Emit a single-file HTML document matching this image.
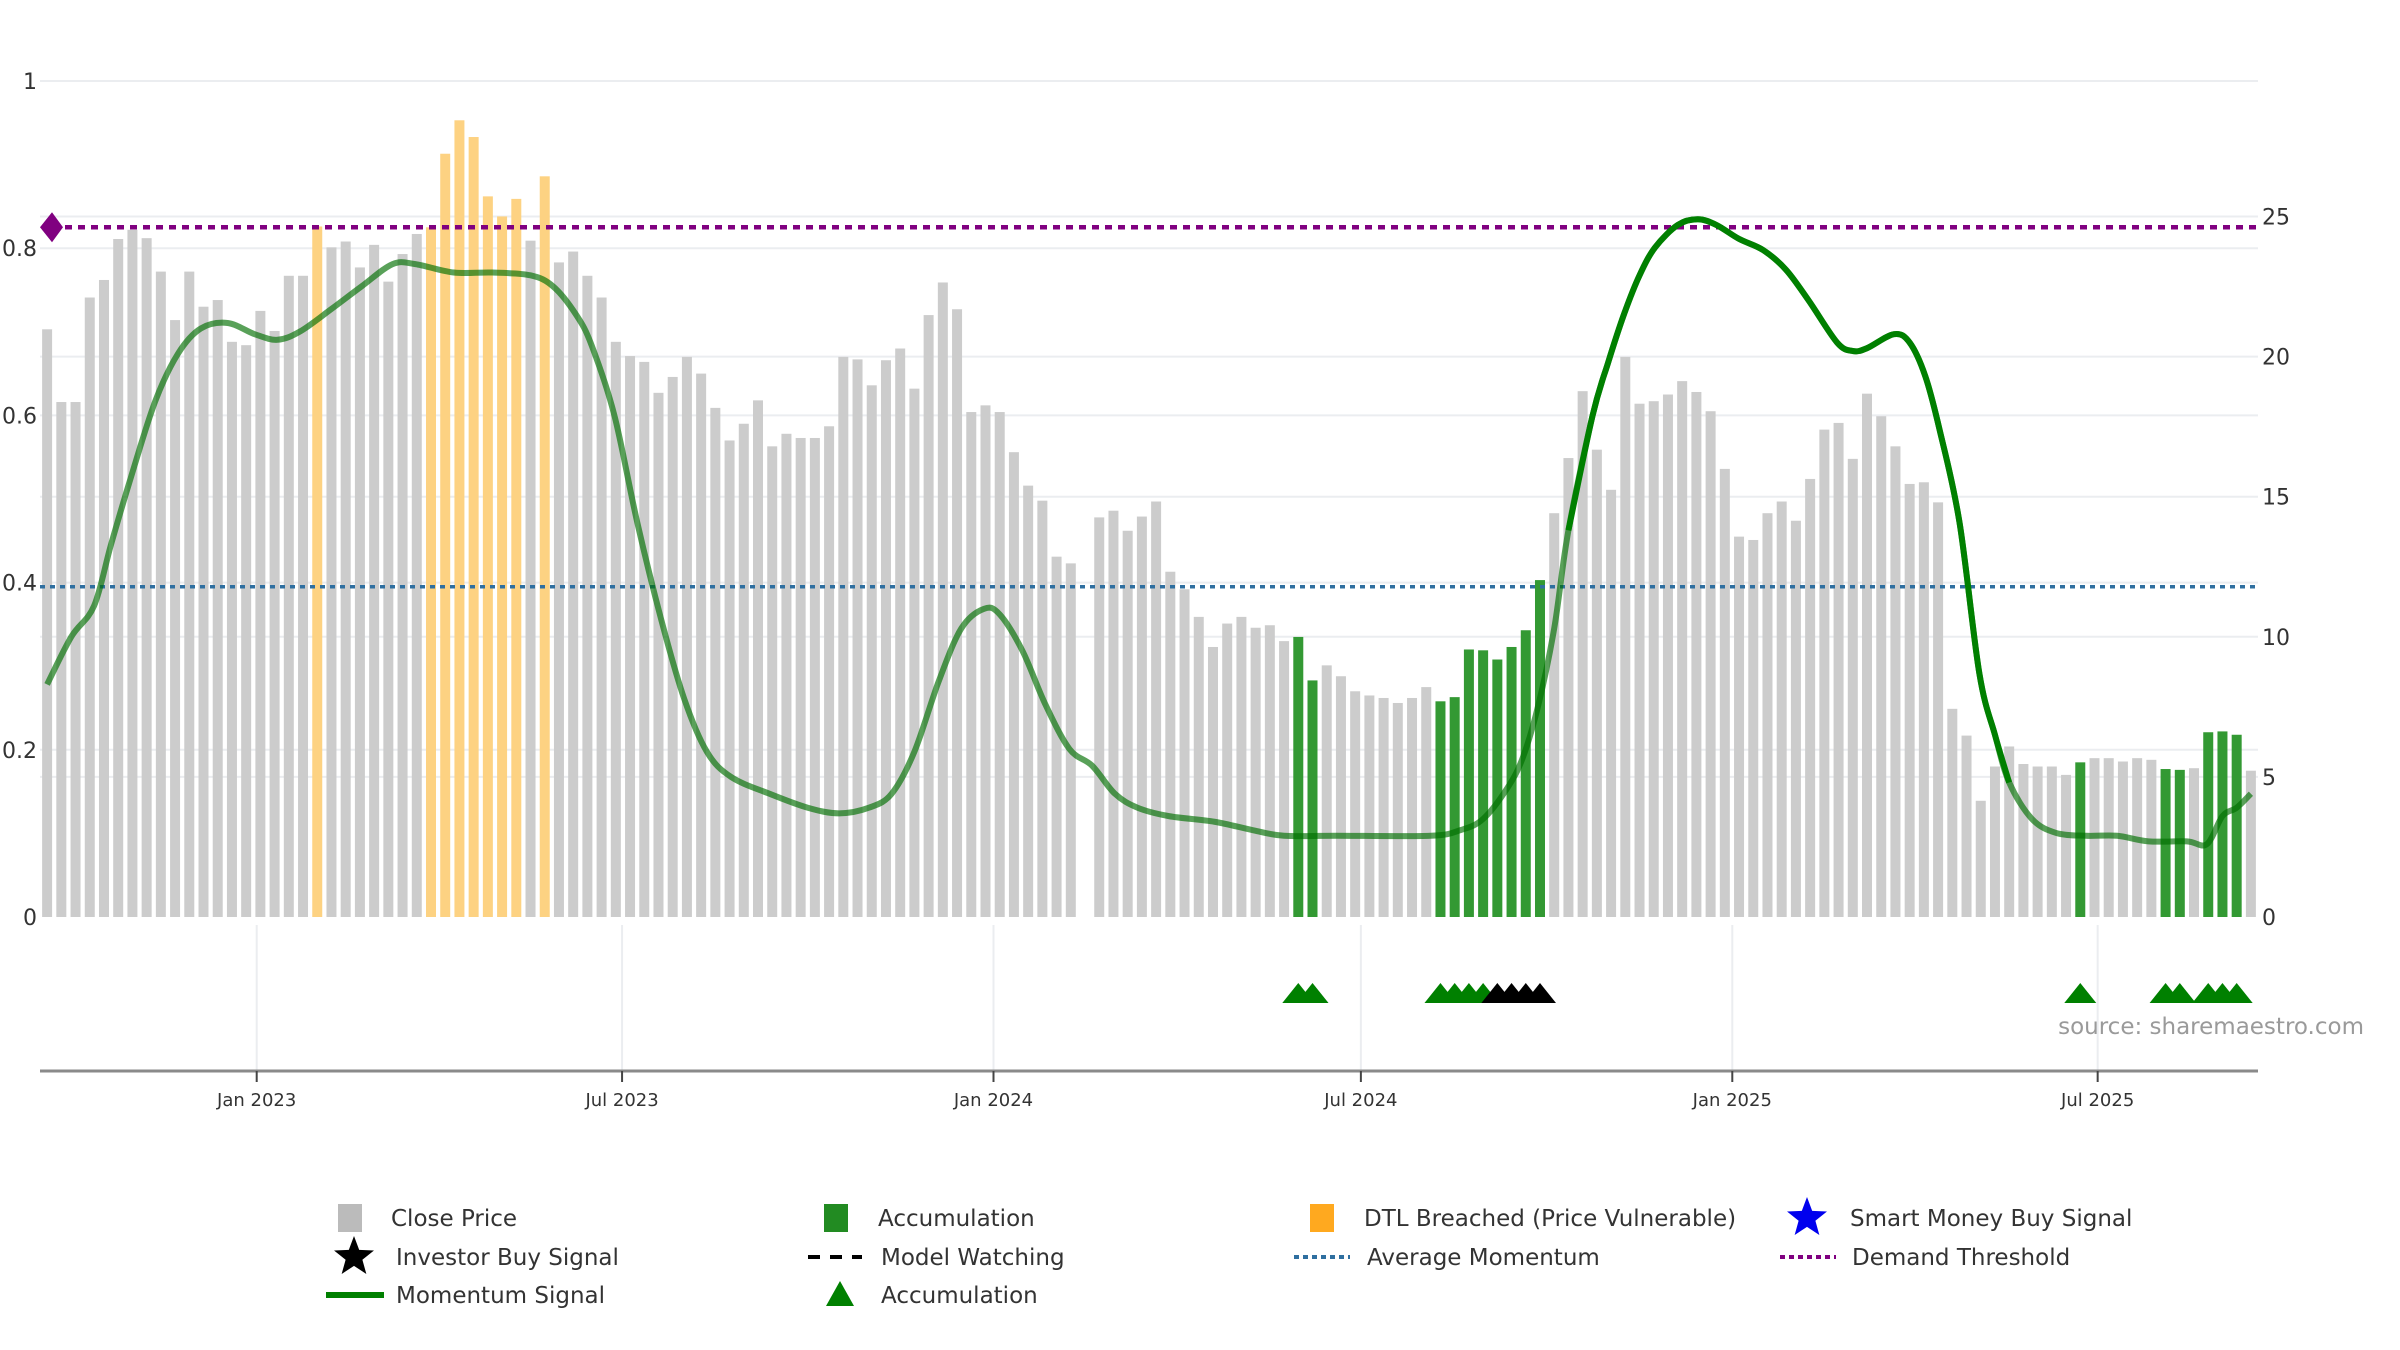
<!DOCTYPE html>
<html><head><meta charset="utf-8">
<style>
html,body{margin:0;padding:0;background:#fff;}
svg{display:block;font-family:"DejaVu Sans","Liberation Sans",sans-serif;}
</style></head>
<body>
<svg id="chart" width="2400" height="1350" viewBox="0 0 2400 1350" xmlns="http://www.w3.org/2000/svg">
<g id="grid"></g>
<g id="bars"></g>
<g id="lines"></g>
<g id="axes"></g>
<g id="markers"></g>
<text x="2364" y="1034" text-anchor="end" font-size="23" fill="#9a9a9a">source: sharemaestro.com</text>
<g id="legend"></g>
</svg>
<script>
const prices = [0.703,0.616,0.616,0.741,0.762,0.811,0.822,0.812,0.772,0.714,0.772,0.730,0.738,0.688,0.684,0.725,0.701,0.767,0.767,0.826,
0.801,0.808,0.777,0.804,0.760,0.793,0.817,0.825,0.913,0.953,0.933,0.862,0.838,0.859,0.809,0.886,0.783,0.796,0.767,0.741,
0.688,0.671,0.664,0.627,0.646,0.670,0.650,0.609,0.570,0.590,0.618,0.563,0.578,0.573,0.573,0.587,0.670,0.667,0.636,0.666,
0.680,0.632,0.720,0.759,0.727,0.604,0.612,0.604,0.556,0.516,0.498,0.431,0.423,null,0.478,0.486,0.462,0.479,0.497,0.413,
0.392,0.359,0.323,0.351,0.359,0.346,0.349,0.330,0.335,0.283,0.301,0.288,0.270,0.265,0.262,0.256,0.262,0.275,0.258,0.263,
0.320,0.319,0.308,0.323,0.343,0.403,0.483,0.549,0.629,0.559,0.511,0.670,0.614,0.617,0.625,0.641,0.628,0.605,0.536,0.455,
0.451,0.483,0.497,0.474,0.524,0.583,0.591,0.548,0.626,0.599,0.563,0.518,0.520,0.496,0.249,0.217,0.139,0.180,0.204,0.183,
0.180,0.180,0.170,0.185,0.190,0.190,0.186,0.190,0.188,0.177,0.176,0.178,0.221,0.222,0.218,0.175];
const accumulationBars = [89,90,99,100,101,102,103,104,105,106,144,150,151,153,154,155];
const dtlBars = [20,28,29,30,31,32,33,34,36];
const greenTriangles = [89,90,99,100,101,102,144,150,151,153,154,155];
const blackTriangles = [103,104,105,106];
const momWeek = [1,2.7,4.3,5.5,6.9,8.6,10.2,11.8,13.7,15.6,17.2,18.8,21,23.1,25.3,26.9,29.6,32.3,35,36.6,38.2,39.3,40.9,42.5,44.2,45.8,47.4,49.1,51.8,54.5,56.7,58.8,60.4,62,63.7,65.3,66.9,68,69.6,71.2,72.9,74.5,76.1,77.7,79.9,83.1,85.8,88,91.7,98.3,100.4,102,103.7,104.8,105.9,107,108,109.7,110.8,111.9,113,114.1,115.7,117.1,118.4,120,121.7,123.3,124.9,126.9,128,129,130.9,132,133.1,134.1,135.5,136.9,138,139,140.6,142.3,144.4,146.6,148.8,151.5,152.9,154,155,156];
const momValue = [8.3,10.0,11.1,13.3,15.7,18.4,20.1,21.0,21.2,20.8,20.6,20.9,21.7,22.5,23.3,23.3,23.0,23.0,22.9,22.5,21.5,20.4,17.9,14.1,10.6,7.8,5.9,5.0,4.4,3.9,3.7,3.9,4.4,5.9,8.4,10.3,11.0,10.8,9.5,7.6,6.0,5.4,4.4,3.9,3.6,3.4,3.1,2.9,2.9,2.9,3.1,3.5,4.6,5.7,7.6,10.3,13.8,17.9,19.8,21.5,22.9,23.9,24.7,24.9,24.7,24.2,23.8,23.1,22.0,20.5,20.2,20.3,20.8,20.5,19.3,17.4,14.1,8.7,6.5,4.8,3.5,3.0,2.9,2.9,2.7,2.7,2.6,3.6,3.9,4.4];
const leftTicks = [0,0.2,0.4,0.6,0.8,1];
const leftTickLabels = ["0","0.2","0.4","0.6","0.8","1"];
const rightTicks = [0,5,10,15,20,25];
const dateTicks = ["2023-01-01","2023-07-01","2024-01-01","2024-07-01","2025-01-01","2025-07-01"];
const dateTickLabels = ["Jan 2023","Jul 2023","Jan 2024","Jul 2024","Jan 2025","Jul 2025"];
const demandThreshold = 0.825;
const averageMomentum = 0.395;

const NS="http://www.w3.org/2000/svg";
const X0=40, X1=2258, NB=prices.length, BW=(X1-X0)/NB;
function xBar(i){return X0+(i-0.5)*BW;}
function yL(v){return 917-v*836;}
function yR(v){return 917-v*28.02;}
function xDate(s){const d=(Date.parse(s)-Date.parse("2023-01-01"))/86400000;return 256.7+d*2.0186;}
function mk(tag,attrs,parent){const e=document.createElementNS(NS,tag);for(const k in attrs)e.setAttribute(k,attrs[k]);parent.appendChild(e);return e;}
const G=id=>document.getElementById(id);

leftTicks.forEach(t=>{if(t>0){const l=mk('line',{x1:X0,x2:X1,y1:yL(t),y2:yL(t),stroke:'#ebedf0','stroke-width':2},G('grid'));

}});
rightTicks.forEach(t=>{if(t>0){const l=mk('line',{x1:X0,x2:X1,y1:yR(t),y2:yR(t),stroke:'#ebedf0','stroke-width':2},G('grid'));

}});
dateTicks.forEach(d=>{const l=mk('line',{x1:xDate(d),x2:xDate(d),y1:925,y2:1070,stroke:'#ebedf0','stroke-width':2},G('grid'));

});

prices.forEach((v,k)=>{
 if(v===null)return;
 const i=k+1;
 let fill='#cccccc', name='close-price-bar';
 if(accumulationBars.includes(i)){fill='#339933';name='accumulation-bar';}
 else if(dtlBars.includes(i)){fill='#fdd282';name='dtl-breached-bar';}
 const r=mk('rect',{x:xBar(i)-5,y:yL(v),width:10,height:yL(0)-yL(v),fill:fill},G('bars'));
 
 
});

const dl=mk('line',{x1:52,x2:X1,y1:yL(demandThreshold),y2:yL(demandThreshold),stroke:'#800080','stroke-width':4.5,'stroke-dasharray':'7 6'},G('lines'));


const dy=yL(demandThreshold);
const dm=mk('polygon',{points:`40,${dy} 52,${dy-15} 63,${dy} 52,${dy+15}`,fill:'#800080'},G('lines'));


const al=mk('line',{x1:X0,x2:X1,y1:yL(averageMomentum),y2:yL(averageMomentum),stroke:'#2f6fa0','stroke-width':3.5,'stroke-dasharray':'5 5'},G('lines'));



function pathFrom(idx){
 const pts=idx.map(k=>[xBar(momWeek[k]),yR(momValue[k])]);
 let d=`M${pts[0][0]},${pts[0][1]}`;
 for(let j=0;j<pts.length-1;j++){
  const p0=pts[Math.max(j-1,0)],p1=pts[j],p2=pts[j+1],p3=pts[Math.min(j+2,pts.length-1)];
  const c1=[p1[0]+(p2[0]-p0[0])/6,p1[1]+(p2[1]-p0[1])/6],c2=[p2[0]-(p3[0]-p1[0])/6,p2[1]-(p3[1]-p1[1])/6];
  d+=` C${c1[0]},${c1[1]} ${c2[0]},${c2[1]} ${p2[0]},${p2[1]}`;
 }
 return d;
}
const allIdx=momWeek.map((_,k)=>k);
const ml=mk('path',{d:pathFrom(allIdx),fill:'none',stroke:'rgba(0,110,0,0.65)','stroke-width':6,'stroke-linejoin':'round'},G('lines'));


const hiIdx=allIdx.filter(k=>momWeek[k]>=108&&momWeek[k]<=139);
const mh=mk('path',{d:pathFrom(hiIdx),fill:'none',stroke:'#008000','stroke-width':6,'stroke-linejoin':'round'},G('lines'));



const ax=mk('line',{x1:X0,x2:X1,y1:1071,y2:1071,stroke:'#8a8a8a','stroke-width':3},G('axes'));


leftTicks.forEach((t,k)=>{const e=mk('text',{x:37,y:yL(t)+8,'text-anchor':'end','font-size':22,fill:'#333'},G('axes'));e.textContent=leftTickLabels[k];

});
rightTicks.forEach(t=>{const e=mk('text',{x:2262,y:yR(t)+8,'font-size':22,fill:'#333'},G('axes'));e.textContent=String(t);

});
dateTicks.forEach((d,k)=>{const x=xDate(d);
 const tk=mk('line',{x1:x,x2:x,y1:1071,y2:1082,stroke:'#444','stroke-width':2},G('axes'));
 
 
 const e=mk('text',{x:x,y:1106,'text-anchor':'middle','font-size':18,fill:'#333'},G('axes'));e.textContent=dateTickLabels[k];
 
 });

function tri(i,color,name){const x=xBar(i);
 const p=mk('polygon',{points:`${x-16},1003 ${x},983 ${x+16},1003`,fill:color},G('markers'));
 
 }
greenTriangles.forEach(i=>tri(i,'#008000','accumulation-triangle'));
blackTriangles.forEach(i=>tri(i,'#000','investor-triangle'));

const L=G('legend');
function ltext(x,y,s,name){const e=mk('text',{x:x,y:y+8,'font-size':23,fill:'#333'},L);e.textContent=s;
 
 }
const r1=1218,r2=1257,r3=1295;
let e;
e=mk('rect',{x:338,y:r1-14,width:24,height:28,fill:'#bbb'},L);
ltext(391,r1,'Close Price','legend-close-price');
e=mk('rect',{x:824,y:r1-14,width:24,height:28,fill:'#228b22'},L);
ltext(878,r1,'Accumulation','legend-accumulation');
e=mk('rect',{x:1310,y:r1-14,width:24,height:28,fill:'#ffa91f'},L);
ltext(1364,r1,'DTL Breached (Price Vulnerable)','legend-dtl-breached');
function star(cx,cy,r,c){let pts=[];for(let k=0;k<10;k++){const a=-Math.PI/2+k*Math.PI/5,rr=k%2?r*0.42:r;pts.push((cx+rr*Math.cos(a))+','+(cy+rr*Math.sin(a)));}return mk('polygon',{points:pts.join(' '),fill:c},L);}
e=star(1807,r1,21,'#0000ee');
ltext(1850,r1,'Smart Money Buy Signal','legend-smart-money');
e=star(354,r2,21,'#000');
ltext(396,r2,'Investor Buy Signal','legend-investor-buy');
e=mk('line',{x1:808,x2:862,y1:r2,y2:r2,stroke:'#000','stroke-width':4,'stroke-dasharray':'12 10'},L);
ltext(881,r2,'Model Watching','legend-model-watching');
e=mk('line',{x1:1294,x2:1350,y1:r2,y2:r2,stroke:'#2f6fa0','stroke-width':4,'stroke-dasharray':'5 4'},L);
ltext(1367,r2,'Average Momentum','legend-average-momentum');
e=mk('line',{x1:1780,x2:1836,y1:r2,y2:r2,stroke:'#800080','stroke-width':4,'stroke-dasharray':'5 4'},L);
ltext(1852,r2,'Demand Threshold','legend-demand-threshold');
e=mk('line',{x1:326,x2:384,y1:r3,y2:r3,stroke:'#008000','stroke-width':6},L);
ltext(396,r3,'Momentum Signal','legend-momentum-signal');
e=mk('polygon',{points:`826,${r3+11} 840,${r3-14} 854,${r3+11}`,fill:'#008000'},L);
ltext(881,r3,'Accumulation','legend-accumulation-signal');
</script>
</body></html>
